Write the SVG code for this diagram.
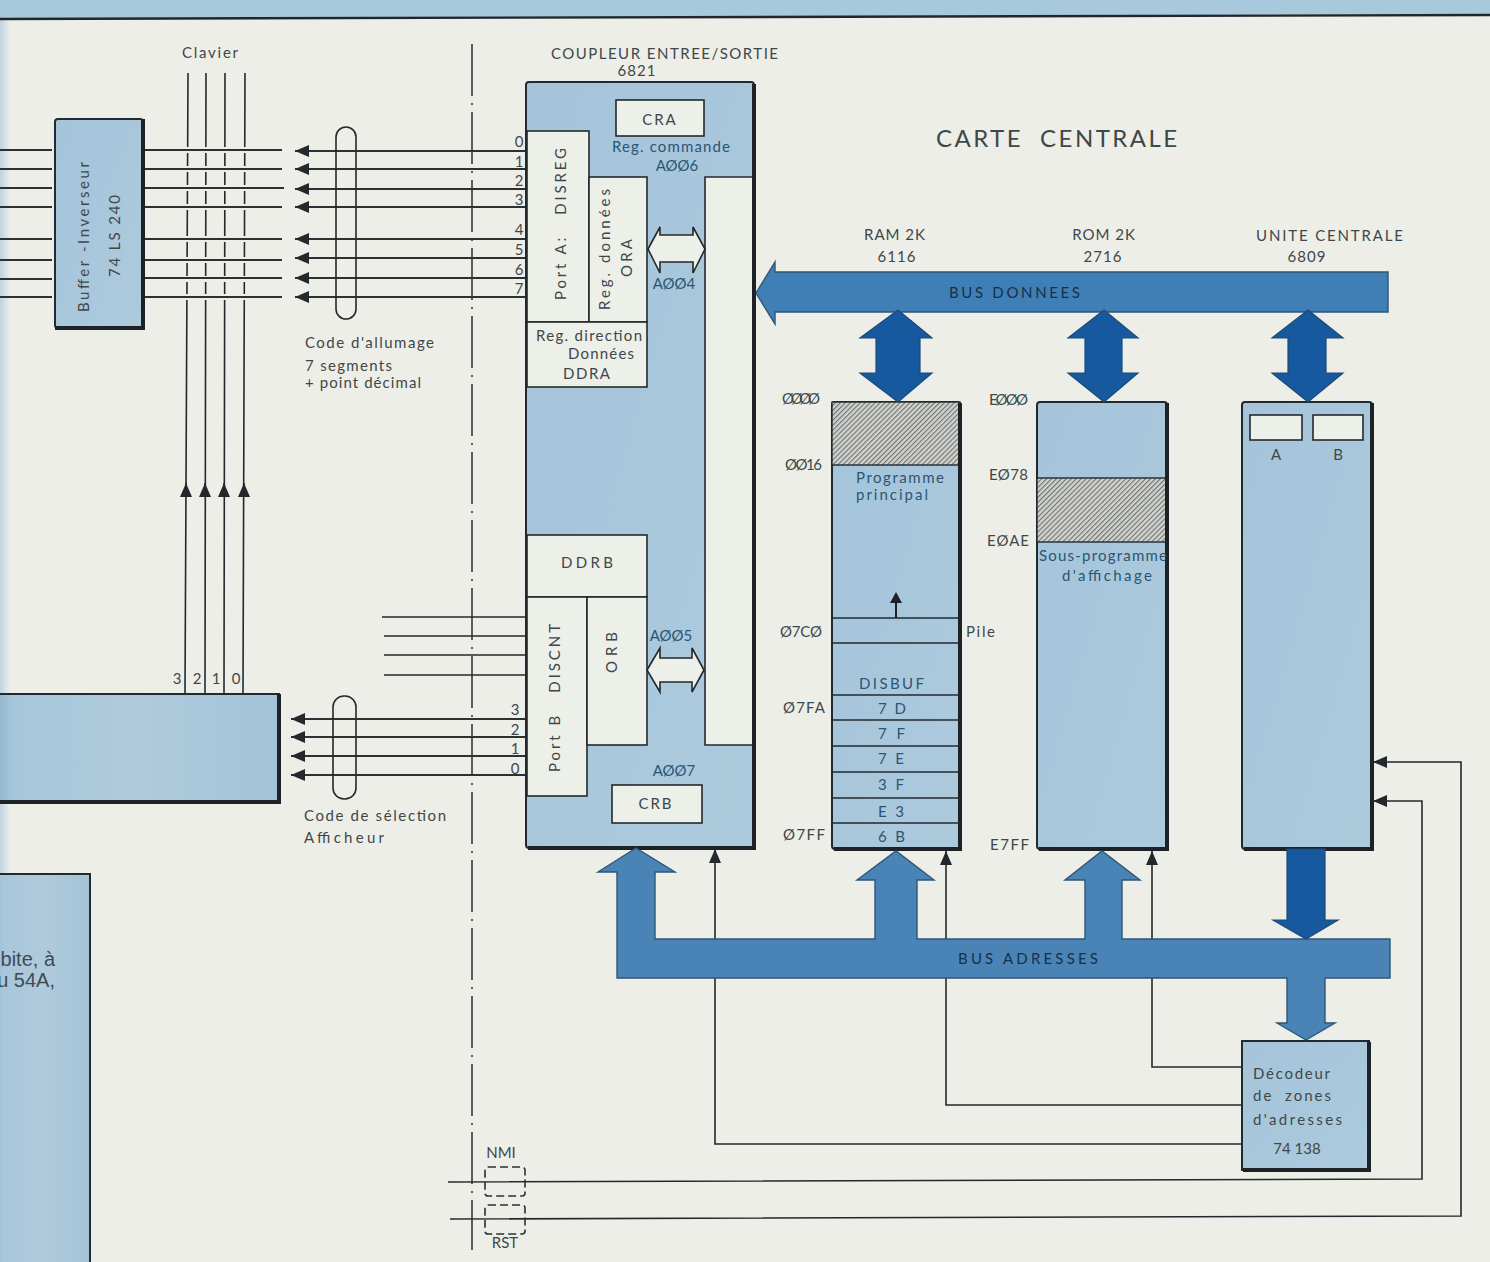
<svg xmlns="http://www.w3.org/2000/svg" width="1490" height="1262" viewBox="0 0 1490 1262">
<style>
text{font-family:"Lato","Noto Sans","DejaVu Sans",sans-serif;font-size:15px;fill:#3f4749}
.b text,text.b{fill:#2a5675}
.w{stroke:#23282c;stroke-width:1.6;fill:none}
.t{stroke:#2b3032;stroke-width:2;fill:none}
.h{stroke:#eceee7;stroke-width:6;fill:none}
.box{fill:url(#blue);stroke:#202a30;stroke-width:2}
.edge{fill:none;stroke:#1c2226;stroke-width:4}
.white{fill:#edefe9;stroke:#23282c;stroke-width:1.6}
.bus{fill:#4a84b7;stroke:#2f5675;stroke-width:1.4}
.dark{fill:#17599f;stroke:#1d4a78;stroke-width:1.2}
.sep{stroke:#202a30;stroke-width:1.6}
.hatch{fill:url(#hatch);stroke:#202a30;stroke-width:1.4}
</style>
<defs>
<linearGradient id="blue" x1="0" y1="0" x2="1" y2="1"><stop offset="0" stop-color="#a5c4da"/><stop offset="1" stop-color="#adcadd"/></linearGradient>
<linearGradient id="edgeg" x1="0" y1="0" x2="1" y2="0"><stop offset="0" stop-color="#bfd4e0"/><stop offset="1" stop-color="#eceee7"/></linearGradient>
<linearGradient id="lowbox" x1="0" y1="0" x2="1" y2="0"><stop offset="0" stop-color="#8fb3cb"/><stop offset=".06" stop-color="#a8c6da"/><stop offset=".5" stop-color="#afcadc"/><stop offset="1" stop-color="#a4c3d8"/></linearGradient>
<pattern id="hatch" width="3.5" height="3.5" patternUnits="userSpaceOnUse" patternTransform="rotate(-45)"><rect width="3.5" height="3.5" fill="#d2d3cf"/><rect width="3.5" height="1.1" fill="#6d7270"/></pattern>
<marker id="arr" markerUnits="userSpaceOnUse" markerWidth="15" markerHeight="13" refX="14" refY="6" orient="auto"><path d="M0 0L14 6L0 12Z" fill="#23282c"/></marker>
</defs>
<rect id="paper" width="1490" height="1262" fill="#eceee7"/>
<rect id="left-edge" width="10" height="1262" fill="url(#edgeg)"/>
<path id="top-band" d="M0 0H1490V14L0 19Z" fill="#a8c8dc"/>
<path d="M0 19L1490 15" stroke="#1f272c" stroke-width="2.4" fill="none"/>
<path id="axis" d="M472 44V1250" stroke="#33393b" stroke-width="1.6" fill="none" stroke-dasharray="52 7 2 7"/>

<g id="connectors">
<path class="w" d="M188 73L185 693M206 73L205 693M225 73L224 693M245 73L243 693"/>
<path class="w" marker-end="url(#arr)" d="M186 492V483"/>
<path class="w" marker-end="url(#arr)" d="M205 492V483"/>
<path class="w" marker-end="url(#arr)" d="M224 492V483"/>
<path class="w" marker-end="url(#arr)" d="M244 492V483"/>
<path class="h" d="M176 150H256M176 169H256M176 188H256M176 207H256M176 239H256M176 260H256M176 279H256M176 297H256"/>
<path class="t" d="M0 150H52M0 169H52M0 188H52M0 207H52M0 239H52M0 260H52M0 279H52M0 297H52"/>
<path class="t" d="M143 150H282M143 169H282M143 188H284M143 207H282M143 239H282M143 260H282M143 278H282M143 297H282"/>
<path class="t" marker-end="url(#arr)" d="M526 151H295"/>
<path class="t" marker-end="url(#arr)" d="M526 169H295"/>
<path class="t" marker-end="url(#arr)" d="M526 189H295"/>
<path class="t" marker-end="url(#arr)" d="M526 207H295"/>
<path class="t" marker-end="url(#arr)" d="M526 239H295"/>
<path class="t" marker-end="url(#arr)" d="M526 258H295"/>
<path class="t" marker-end="url(#arr)" d="M526 278H295"/>
<path class="t" marker-end="url(#arr)" d="M526 297H295"/>
<path class="w" d="M382 617H526M384 636H526M384 655H526M384 675H526"/>
<path class="t" marker-end="url(#arr)" d="M526 719H291"/>
<path class="t" marker-end="url(#arr)" d="M526 737H291"/>
<path class="t" marker-end="url(#arr)" d="M526 756H291"/>
<path class="t" marker-end="url(#arr)" d="M526 775H291"/>
<path class="w" marker-end="url(#arr)" d="M1242 1067H1152V851"/>
<path class="w" marker-end="url(#arr)" d="M1242 1105H946V851"/>
<path class="w" marker-end="url(#arr)" d="M1242 1144H715V849"/>
<path class="w" marker-end="url(#arr)" d="M448 1182L1422 1179V801H1373"/>
<path class="w" marker-end="url(#arr)" d="M450 1219L1461 1216V762H1373"/>
<rect class="w" x="336" y="127" width="20" height="192" rx="10"/>
<rect class="w" x="333" y="696" width="23" height="103" rx="11"/>
<rect x="485" y="1167" width="40" height="29" rx="3" fill="none" stroke="#2b3032" stroke-width="1.6" stroke-dasharray="8 4"/>
<rect x="485" y="1205" width="40" height="29" rx="3" fill="none" stroke="#2b3032" stroke-width="1.6" stroke-dasharray="8 4"/>
</g>

<g id="buffer">
<rect class="box" x="55" y="119" width="88" height="209" rx="3"/>
<path class="edge" d="M143 119V328H55"/>
<text transform="translate(89 312) rotate(-90)" textLength="150">Buffer -Inverseur</text>
<text transform="translate(120 277) rotate(-90)" textLength="82">74 LS 240</text>
</g>
<g id="display-box">
<rect x="-4" y="694" width="283" height="109" fill="url(#lowbox)" stroke="#202a30" stroke-width="2"/>
<path class="edge" d="M279 694V802H0"/>
</g>
<g id="page-text-box">
<rect x="-4" y="874" width="94" height="392" fill="url(#lowbox)" stroke="#202a30" stroke-width="2"/>
<text x="55" y="966" text-anchor="end" style="font-family:'Liberation Sans',Arial,sans-serif;font-size:20px;fill:#3f4c55">bite, à</text>
<text x="55" y="987" text-anchor="end" style="font-family:'Liberation Sans',Arial,sans-serif;font-size:20px;fill:#3f4c55">u 54A,</text>
</g>

<g id="coupler">
<rect class="box" x="526" y="82" width="228" height="766" rx="3"/>
<path class="edge" d="M754 84V848H528"/>
<rect class="white" x="616" y="100" width="88" height="36"/>
<rect class="white" x="527" y="131" width="62" height="191"/>
<rect class="white" x="589" y="177" width="58" height="145"/>
<rect class="white" x="527" y="322" width="120" height="65"/>
<rect class="white" x="705" y="177" width="47" height="568" style="stroke:none"/>
<path class="w" d="M752 177H705V745H752"/>
<rect class="white" x="527" y="535" width="120" height="62"/>
<rect class="white" x="527" y="597" width="60" height="199"/>
<rect class="white" x="587" y="597" width="60" height="148"/>
<rect class="white" x="612" y="785" width="90" height="38"/>
<path class="white" d="M648 249L660 227V235H693V227L705 249L693 273V262H660V273Z"/>
<path class="white" d="M647 670L660 648V658H692V648L704 670L692 692V682H660V692Z"/>
<text x="660" y="125" text-anchor="middle" letter-spacing="2">CRA</text>
<text x="612" y="152" class="b" textLength="118">Reg. commande</text>
<text x="677" y="171" class="b" text-anchor="middle">AØØ6</text>
<text transform="translate(566 300) rotate(-90)" textLength="152" xml:space="preserve">Port A:   DISREG</text>
<text transform="translate(610 310) rotate(-90)" textLength="121">Reg. données</text>
<text transform="translate(632 277) rotate(-90)" textLength="38">ORA</text>
<text x="674" y="289" class="b" text-anchor="middle">AØØ4</text>
<text x="536" y="341" textLength="106">Reg. direction</text>
<text x="568" y="359" textLength="66">Données</text>
<text x="563" y="379" textLength="47">DDRA</text>
<text x="561" y="568" textLength="52">DDRB</text>
<text transform="translate(560 772) rotate(-90)" textLength="148" xml:space="preserve">Port B   DISCNT</text>
<text transform="translate(617 673) rotate(-90)" textLength="41">ORB</text>
<text x="671" y="641" class="b" text-anchor="middle">AØØ5</text>
<text x="674" y="776" class="b" text-anchor="middle">AØØ7</text>
<text x="656" y="809" text-anchor="middle" letter-spacing="2">CRB</text>
</g>

<g id="ram">
<rect class="box" x="832" y="402" width="128" height="447" rx="3"/>
<rect class="hatch" x="832" y="402" width="128" height="63"/>
<path class="edge" d="M960 403V849H834"/>
<path class="sep" d="M832 618H960M832 643H960M832 695H960M832 720H960M832 746H960M832 772H960M832 798H960M832 823H960"/>
<path d="M896 618V598" stroke="#1c2226" stroke-width="2"/>
<path d="M896 592L902 603H890Z" fill="#1c2226"/>
<text x="856" y="483" class="b" textLength="88">Programme</text>
<text x="856" y="500" class="b" textLength="72">principal</text>
<text x="859" y="689" class="b" textLength="65">DISBUF</text>
<text x="878" y="714" class="b" textLength="28" xml:space="preserve">7 D</text>
<text x="878" y="739" class="b" textLength="27" xml:space="preserve">7 F</text>
<text x="878" y="764" class="b" textLength="26" xml:space="preserve">7 E</text>
<text x="878" y="790" class="b" textLength="26" xml:space="preserve">3 F</text>
<text x="878" y="817" class="b" textLength="26" xml:space="preserve">E 3</text>
<text x="878" y="842" class="b" textLength="27" xml:space="preserve">6 B</text>
</g>
<g id="rom">
<rect class="box" x="1037" y="402" width="130" height="447" rx="3"/>
<rect class="hatch" x="1037" y="478" width="130" height="64"/>
<path class="edge" d="M1167 403V849H1039"/>
<text x="1039" y="561" class="b" textLength="128">Sous-programme</text>
<text x="1062" y="581" class="b" textLength="90">d'affichage</text>
</g>
<g id="cpu">
<rect class="box" x="1242" y="402" width="130" height="447" rx="3"/>
<path class="edge" d="M1372 403V849H1244"/>
<rect class="white" x="1250" y="415" width="52" height="25"/>
<rect class="white" x="1313" y="415" width="50" height="25"/>
<text x="1276" y="460" text-anchor="middle">A</text>
<text x="1338" y="460" text-anchor="middle">B</text>
</g>
<g id="decoder">
<rect class="box" x="1242" y="1041" width="127" height="129"/>
<path class="edge" d="M1369 1042V1170H1243"/>
<text x="1253" y="1079" textLength="77">Décodeur</text>
<text x="1253" y="1101" textLength="78" xml:space="preserve">de  zones</text>
<text x="1253" y="1125" textLength="89">d'adresses</text>
<text x="1297" y="1154" text-anchor="middle">74 138</text>
</g>

<g id="bus-data">
<path class="bus" style="fill:#3f7fb6" d="M756 293L775 262V272H1388V312H775V324Z"/>
<text x="949" y="298" textLength="131" style="fill:#16304a">BUS DONNEES</text>
</g>
<g id="bus-address">
<path class="bus" d="M617 939V872H598L636 848L675 872H655V939H875V880H857L896 851L934 880H917V939H1085V880H1065L1102 851L1140 880H1122V939H1390V978H1325V1023H1335L1306 1040L1277 1023H1287V978H617Z"/>
<text x="958" y="964" textLength="140" style="fill:#16304a">BUS ADRESSES</text>
</g>
<g id="link-ram"><path class="dark" d="M898 310L932 338H920V373H932L898 402L860 373H876V338H860Z"/></g>
<g id="link-rom"><path class="dark" d="M1104 310L1138 338H1122V373H1138L1104 402L1068 373H1085V338H1068Z"/></g>
<g id="link-cpu"><path class="dark" d="M1308 310L1343 338H1326V373H1343L1308 402L1272 373H1288V338H1272Z"/></g>
<g id="link-cpu-address"><path class="dark" d="M1287 849H1325V920H1338L1306 939L1273 920H1287Z"/></g>

<g id="labels">
<text x="182" y="58" textLength="56">Clavier</text>
<text x="551" y="59" textLength="227">COUPLEUR ENTREE/SORTIE</text>
<text x="637" y="76" text-anchor="middle" letter-spacing="1">6821</text>
<text x="936" y="147" textLength="241" style="font-size:24px" xml:space="preserve">CARTE  CENTRALE</text>
<text x="895" y="240" text-anchor="middle" letter-spacing="1">RAM 2K</text>
<text x="897" y="262" text-anchor="middle" letter-spacing="1">6116</text>
<text x="1104" y="240" text-anchor="middle" letter-spacing="1">ROM 2K</text>
<text x="1103" y="262" text-anchor="middle" letter-spacing="1">2716</text>
<text x="1256" y="241" textLength="147">UNITE CENTRALE</text>
<text x="1307" y="262" text-anchor="middle" letter-spacing="1">6809</text>
<text x="305" y="348" textLength="129">Code d'allumage</text>
<text x="305" y="371" textLength="87">7 segments</text>
<text x="305" y="388" textLength="116">+ point décimal</text>
<text x="304" y="821" textLength="142">Code de sélection</text>
<text x="304" y="843" textLength="80">Afficheur</text>
<text x="519" y="147" text-anchor="middle">0</text><text x="519" y="167" text-anchor="middle">1</text><text x="519" y="186" text-anchor="middle">2</text><text x="519" y="205" text-anchor="middle">3</text>
<text x="519" y="235" text-anchor="middle">4</text><text x="519" y="255" text-anchor="middle">5</text><text x="519" y="275" text-anchor="middle">6</text><text x="519" y="294" text-anchor="middle">7</text>
<text x="515" y="715" text-anchor="middle">3</text><text x="515" y="735" text-anchor="middle">2</text><text x="515" y="754" text-anchor="middle">1</text><text x="515" y="774" text-anchor="middle">0</text>
<text x="177" y="684" text-anchor="middle">3</text><text x="197" y="684" text-anchor="middle">2</text><text x="216" y="684" text-anchor="middle">1</text><text x="236" y="684" text-anchor="middle">0</text>
<text x="782" y="404" textLength="38">ØØØØ</text>
<text x="785" y="470" textLength="37">ØØ16</text>
<text x="780" y="637" textLength="42">Ø7CØ</text>
<text x="783" y="713" textLength="42">Ø7FA</text>
<text x="783" y="840" textLength="42">Ø7FF</text>
<text x="989" y="405" textLength="39">EØØØ</text>
<text x="989" y="480" textLength="39">EØ78</text>
<text x="987" y="546" textLength="42">EØAE</text>
<text x="990" y="850" textLength="39">E7FF</text>
<text x="966" y="637" textLength="29">Pile</text>
<text x="501" y="1158" text-anchor="middle">NMI</text>
<text x="505" y="1248" text-anchor="middle">RST</text>
</g>
</svg>
